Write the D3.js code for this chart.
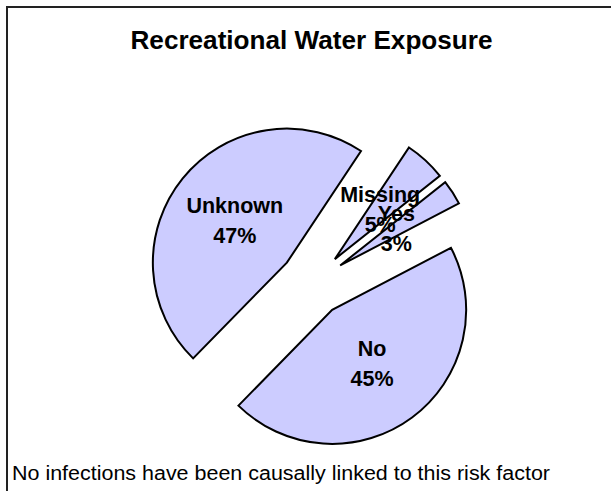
<!DOCTYPE html>
<html><head><meta charset="utf-8">
<script src="https://cdn.jsdelivr.net/npm/d3@7"></script>
<style>html,body{margin:0;padding:0;background:#fff;}svg{display:block;}</style>
</head><body>
<script>
const categories = ["Missing", "Yes", "No", "Unknown"];
const values = [5, 3, 45, 47];
const percentLabels = ["5%", "3%", "45%", "47%"];
const title = "Recreational Water Exposure";
const footnote = "No infections have been causally linked to this risk factor";

const W = 611, H = 491;
const svg = d3.select("body").append("svg").attr("width", W).attr("height", H);

// frame (top and left edges visible)
svg.append("rect").attr("x", 7).attr("y", 7).attr("width", W + 20).attr("height", H + 20)
  .attr("fill", "none").attr("stroke", "#222").attr("stroke-width", 2);

svg.append("text").attr("x", 311.5).attr("y", 49).attr("text-anchor", "middle")
  .attr("font-family", "Arial, 'Liberation Sans', sans-serif").attr("font-weight", "bold")
  .attr("font-size", 25.5).attr("textLength", 362).attr("lengthAdjust", "spacingAndGlyphs")
  .attr("fill", "#000").text(title);

const cx = 312.5, cy = 283.4, R = 134, explode = 33;
const startDeg = 33.6;
const pie = d3.pie().sort(null).value(d => d.v)
  .startAngle(startDeg * Math.PI / 180).endAngle((startDeg + 360) * Math.PI / 180);
const arcs = pie(categories.map((c, i) => ({c, v: values[i], p: percentLabels[i]})));
const arc = d3.arc().innerRadius(0).outerRadius(R);

const g = svg.append("g").attr("transform", `translate(${cx},${cy})`);
const slices = g.selectAll("g.slice").data(arcs).join("g").attr("class", "slice")
  .attr("transform", d => {
    const m = (d.startAngle + d.endAngle) / 2;
    return `translate(${explode * Math.sin(m)},${-explode * Math.cos(m)})`;
  });
slices.append("path").attr("d", arc).attr("fill", "#CCCCFF")
  .attr("stroke", "#000").attr("stroke-width", 2).attr("stroke-linejoin", "miter");

const labels = g.selectAll("g.lab").data(arcs).join("g").attr("class", "lab")
  .attr("transform", d => {
    const m = (d.startAngle + d.endAngle) / 2;
    const c = arc.centroid(d);
    return `translate(${c[0] + explode * Math.sin(m)},${c[1] - explode * Math.cos(m)})`;
  });
labels.each(function(d) {
  const t = d3.select(this).append("text").attr("text-anchor", "middle")
    .attr("font-family", "Arial, 'Liberation Sans', sans-serif").attr("font-weight", "bold")
    .attr("font-size", 21.5).attr("fill", "#000");
  t.append("tspan").attr("x", 0).attr("y", -7.5).text(d.data.c);
  t.append("tspan").attr("x", 0).attr("y", 22.5).text(d.data.p);
});

svg.append("text").attr("x", 12).attr("y", 480)
  .attr("font-family", "Arial, 'Liberation Sans', sans-serif")
  .attr("font-size", 19.5).attr("textLength", 538).attr("lengthAdjust", "spacingAndGlyphs")
  .attr("fill", "#000").text(footnote);
</script>
</body></html>
